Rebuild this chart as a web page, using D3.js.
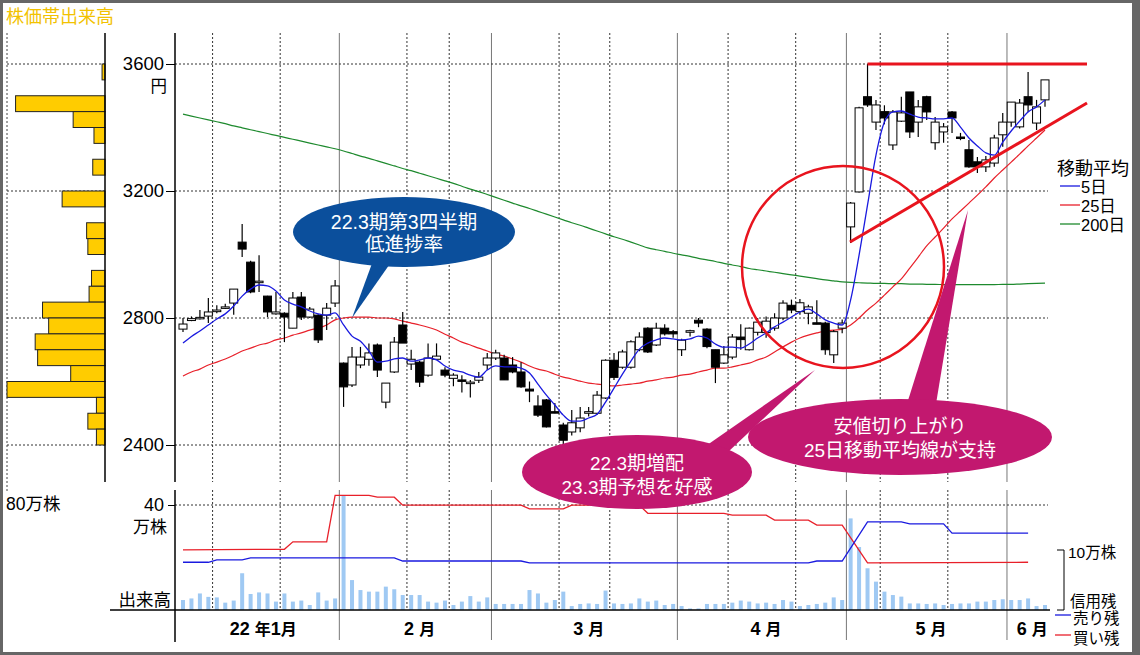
<!DOCTYPE html>
<html><head><meta charset="utf-8">
<script src="https://cdn.jsdelivr.net/npm/d3@7"></script>
<style>
body{margin:0;background:#fff;}
svg{display:block;font-family:"Liberation Sans","Noto Sans CJK JP",sans-serif;}
</style></head><body>
<svg id="c" width="1140" height="655"></svg>
<script>
// ---------- DATA ----------
const open  = [2765,2792,2800,2806,2820,2832,2847,3039,2976,2914,2869,2813,2815,2768,2866,2803,2809,2809,2847,
 2658,2589,2652,2670,2715,2535,2630,2778,2655,2661,2620,2670,2636,2610,2605,2595,2604,2652,
 2674,2674,2652,2630,2576,2523,2542,2505,2463,2441,2454,2500,2500,2548,2667,2645,2645,2700,2768,2715,2768,2757,
 2700,2755,2793,2765,2700,2658,2677,2740,2700,2755,2754,2768,2800,2840,2820,2815,2785,2784,2684,2768,
 3087,3197,3497,3417,3450,3345,3420,3512,3417,3497,3352,3386,3449,3370,3330,3292,3276,3288,3377,
 3417,3402,3497,3414,3487];
const high  = [2800,2805,2825,2863,2840,2845,2891,3096,2980,2998,2870,2882,2818,2882,2882,2835,2812,2847,2920,
 2660,2709,2709,2720,2720,2595,2740,2819,2700,2665,2720,2720,2645,2626,2620,2605,2630,2690,
 2700,2684,2677,2661,2600,2557,2545,2532,2470,2510,2520,2520,2570,2670,2690,2700,2730,2755,2771,2785,2780,2762,
 2735,2763,2800,2768,2700,2712,2750,2780,2770,2800,2805,2815,2856,2858,2860,2842,2856,2788,2762,2795,
 3165,3465,3600,3487,3470,3455,3497,3512,3487,3500,3433,3414,3452,3383,3361,3307,3310,3377,3446,
 3480,3490,3575,3487,3550];
const low   = [2756,2790,2795,2784,2815,2828,2810,2992,2878,2882,2803,2810,2724,2768,2794,2800,2721,2762,2835,
 2520,2583,2642,2650,2614,2516,2627,2721,2636,2583,2615,2668,2613,2585,2565,2550,2595,2636,
 2668,2605,2626,2580,2535,2488,2455,2500,2395,2430,2440,2490,2495,2545,2605,2640,2640,2695,2690,2712,2745,2738,
 2680,2742,2771,2705,2595,2655,2670,2700,2698,2745,2738,2760,2793,2815,2810,2780,2780,2684,2658,2752,
 3036,3195,3465,3392,3410,3329,3417,3367,3370,3424,3330,3352,3383,3360,3273,3257,3260,3276,3339,
 3402,3397,3449,3392,3465];
const close = [2781,2798,2802,2819,2825,2835,2891,3017,2882,2916,2819,2819,2803,2863,2803,2828,2731,2831,2901,
 2583,2677,2677,2690,2636,2595,2724,2721,2670,2598,2674,2680,2620,2620,2603,2598,2614,2674,
 2690,2605,2630,2583,2570,2494,2457,2503,2415,2470,2485,2505,2557,2667,2613,2693,2725,2740,2693,2768,2750,2750,
 2730,2760,2784,2710,2645,2684,2740,2732,2768,2787,2790,2800,2847,2825,2848,2835,2784,2700,2757,2784,
 3162,3462,3471,3471,3430,3449,3446,3386,3465,3449,3417,3402,3430,3367,3276,3276,3298,3367,3417,
 3480,3477,3471,3465,3550];
const ma5   = [2721,2742,2759,2778,2797,2813,2838,2869,2891,2904,2901,2885,2857,2844,2835,2822,2813,2809,2816,
 2778,2743,2727,2696,2661,2664,2671,2674,2664,2668,2674,2668,2649,2636,2630,2620,2614,2636,
 2649,2646,2646,2642,2627,2592,2557,2526,2494,2475,2475,2485,2497,2535,2579,2623,2664,2702,2721,2731,2737,2734,
 2731,2734,2743,2737,2718,2708,2708,2705,2718,2737,2753,2772,2787,2803,2819,2828,2813,2794,2784,2778,
 2857,2998,3156,3313,3417,3449,3452,3442,3433,3430,3427,3427,3430,3401,3367,3342,3320,3313,3354,
 3389,3420,3449,3465,3487];
const ma25  = [2617,2630,2639,2652,2661,2671,2683,2696,2705,2715,2721,2731,2737,2746,2753,2762,2768,2778,2794,
 2800,2803,2803,2803,2800,2800,2797,2790,2784,2778,2771,2762,2749,2737,2724,2715,2705,2696,
 2686,2680,2671,2661,2649,2639,2633,2623,2614,2608,2601,2595,2592,2589,2586,2589,2592,2595,2601,2605,2611,2614,
 2620,2623,2630,2636,2642,2642,2646,2652,2658,2668,2677,2693,2709,2724,2737,2746,2753,2759,2762,2765,
 2778,2800,2825,2847,2872,2898,2923,2957,2992,3027,3055,3083,3112,3137,3162,3187,3213,3241,3266,
 3291,3316,3342,3367,3392];
const ma200 = [3442,3436,3430,3424,3418,3412,3405,3399,3393,3387,3381,3375,3369,3363,3357,3351,3345,3339,3333,
 3326,3318,3310,3303,3295,3287,3279,3271,3264,3256,3248,3240,3232,3224,3215,3206,3198,3189,
 3180,3171,3162,3153,3145,3136,3127,3118,3109,3100,3092,3083,3074,3065,3056,3048,3039,3030,3021,3015,3010,3004,
 2999,2994,2988,2983,2978,2972,2967,2962,2956,2952,2948,2944,2940,2936,2932,2928,2924,2920,2917,2914,
 2912,2911,2910,2909,2909,2908,2908,2907,2907,2906,2906,2905,2905,2905,2905,2905,2905,2905,2906,
 2906,2907,2908,2909,2910];
const volume = [3.8,4.4,6.3,5.0,4.8,2.8,3.6,14.0,6.1,6.7,6.3,3.2,6.3,3.2,3.6,1.9,6.7,3.6,4.4,
 43.8,11.4,7.6,7.0,7.0,8.9,7.9,5.7,5.7,5.7,3.2,2.8,3.6,1.9,3.2,5.3,3.2,4.8,
 2.3,2.3,2.3,2.3,7.6,6.3,2.8,3.8,7.0,1.5,2.3,2.5,2.3,7.4,2.5,2.3,2.5,4.4,3.2,3.6,1.9,2.3,
 1.5,0.6,0.6,2.3,2.3,2.3,2.8,3.6,3.2,2.5,2.8,2.3,3.8,3.2,1.5,1.9,2.3,2.8,4.8,3.8,
 34.9,24.0,15.9,10.8,7.0,5.7,5.1,2.5,2.5,2.3,2.5,1.9,2.3,2.5,2.5,3.2,3.2,3.8,4.1,
 3.8,3.8,4.4,1.5,1.9];
// margin balances (万株), weekly points: day index and value
const buyDays  = [0,12,13,17,18,22,23,25,26,40,41,45,46,54,55,64,65,69,70,74,75,78,81,100];
const buyVals  = [9.7,9.8,11.0,11.0,18.5,18.5,18.2,18.2,16.9,16.9,16.3,16.3,16.9,16.9,15.6,15.6,15.3,15.3,14.5,14.5,13.7,13.7,7.6,7.7];
const sellDays = [0,3,4,7,8,25,26,40,41,74,75,78,81,85,86,90,91,100];
const sellVals = [7.7,7.7,8.1,8.1,8.4,8.4,7.9,7.9,7.6,7.6,7.9,7.9,14.2,14.2,13.9,13.9,12.4,12.4];
// price-band volume profile (lower edge of 50円 band, 万株)
const bandLow = [3550,3450,3400,3350,3250,3150,3050,3000,2900,2850,2800,2750,2700,2650,2600,2550,2500,2450,2400];
const bandVol = [2.4,73,26,9,10,35,15,14,11,13,51,46,57,55,28,80,7,14,7];
const priceTicks = [2400,2800,3200,3600];
const monthLabels = ["22","2","3","4","5","6"];
const monthFirst = [0,19,37,59,79,98];
const monthLast  = [18,36,58,78,97,102];
const midLines = [3.5,11.5,26.5,31.5,44.5,50.5,64.5,72.5,82.5,90.5];

// ---------- SCALES ----------
const svg = d3.select("#c");
const x = d3.scaleLinear().domain([0,102]).range([183,1045]);
const y = d3.scaleLinear().domain([2400,3600]).range([445,64]);
const yv = d3.scaleLinear().domain([0,40]).range([610,505]);
const ym = d3.scaleLinear().domain([0,10]).range([610,548]);
const xh = d3.scaleLinear().domain([0,80]).range([105,7]);
const N = close.length;

// frame
svg.append("rect").attr("width",1140).attr("height",655).attr("fill","#666");
svg.append("rect").attr("x",3).attr("y",3).attr("width",1129).attr("height",649).attr("fill","#fff");

// title
svg.append("text").attr("x",6).attr("y",23).attr("font-size",18).attr("fill","#f2c200").text("株価帯出来高");

// histogram panel
svg.append("line").attr("x1",7).attr("x2",7).attr("y1",33).attr("y2",492).attr("stroke","#444").attr("stroke-dasharray","2,2");
priceTicks.forEach(p=>{
  svg.append("line").attr("x1",7).attr("x2",105).attr("y1",y(p)).attr("y2",y(p)).attr("stroke","#333").attr("stroke-dasharray","2,2");
});
svg.append("g").selectAll("rect").data(bandLow).join("rect")
  .attr("x",(d,i)=>xh(bandVol[i])).attr("width",(d,i)=>105-xh(bandVol[i]))
  .attr("y",d=>y(d+50)).attr("height",d=>y(d)-y(d+50))
  .attr("fill","#ffcc00").attr("stroke","#222").attr("stroke-width",1);
svg.append("line").attr("x1",105).attr("x2",105).attr("y1",33).attr("y2",482).attr("stroke","#000").attr("stroke-width",1.5);
svg.append("text").attr("x",6).attr("y",510).attr("font-size",17.5).text("80万株");

// grid: month boundaries (solid) and mid-month (dotted)
const bounds = monthFirst.slice(1).map(d=>d-0.5);
bounds.forEach(b=>{
  svg.append("line").attr("x1",x(b)).attr("x2",x(b)).attr("y1",33).attr("y2",482).attr("stroke","#777");
  svg.append("line").attr("x1",x(b)).attr("x2",x(b)).attr("y1",490).attr("y2",640).attr("stroke","#777");
});
midLines.forEach(b=>{
  svg.append("line").attr("x1",x(b)).attr("x2",x(b)).attr("y1",33).attr("y2",482).attr("stroke","#333").attr("stroke-dasharray","2,2");
  svg.append("line").attr("x1",x(b)).attr("x2",x(b)).attr("y1",490).attr("y2",610).attr("stroke","#333").attr("stroke-dasharray","2,2");
});
priceTicks.forEach(p=>{
  svg.append("line").attr("x1",175).attr("x2",1048).attr("y1",y(p)).attr("y2",y(p)).attr("stroke","#333").attr("stroke-dasharray","2,2");
});
svg.append("line").attr("x1",175).attr("x2",1048).attr("y1",yv(40)).attr("y2",yv(40)).attr("stroke","#333").attr("stroke-dasharray","2,2");

// price axis
const ay = d3.axisLeft(y).tickValues(priceTicks).tickSize(9).tickFormat(d3.format("d"));
const gAy = svg.append("g").attr("transform","translate(175,0)").call(ay);
gAy.select(".domain").remove();
gAy.selectAll("text").attr("font-size",18.5).attr("font-family","Liberation Sans, Arial, sans-serif").attr("fill","#000").attr("x",-11);
gAy.selectAll("line").attr("stroke","#000");
svg.append("text").attr("x",167).attr("y",92).attr("text-anchor","end").attr("font-size",16.5).text("円");
svg.append("line").attr("x1",175).attr("x2",175).attr("y1",33).attr("y2",482).attr("stroke","#000").attr("stroke-width",1.5);

// volume axis
const av = d3.axisLeft(yv).tickValues([40]).tickSize(7).tickFormat(d3.format("d"));
const gAv = svg.append("g").attr("transform","translate(175,0)").call(av);
gAv.select(".domain").remove();
gAv.selectAll("text").attr("font-size",18).attr("fill","#000").attr("x",-11);
svg.append("text").attr("x",167).attr("y",533).attr("text-anchor","end").attr("font-size",17).text("万株");
svg.append("text").attr("x",171).attr("y",606).attr("text-anchor","end").attr("font-size",17.5).text("出来高");
svg.append("line").attr("x1",175).attr("x2",175).attr("y1",490).attr("y2",642).attr("stroke","#000").attr("stroke-width",1.5);

// volume bars
svg.append("g").selectAll("rect").data(volume).join("rect")
  .attr("x",(d,i)=>x(i)-2).attr("width",4)
  .attr("y",d=>yv(d)).attr("height",d=>610-yv(d))
  .attr("fill","#9fc9f3");
svg.append("line").attr("x1",110).attr("x2",1050).attr("y1",610).attr("y2",610).attr("stroke","#000").attr("stroke-width",1.5);

// margin lines
const lm = d3.line().x(d=>x(d[0])).y(d=>ym(d[1]));
svg.append("path").attr("d",lm(buyDays.map((d,i)=>[d,buyVals[i]]))).attr("fill","none").attr("stroke","#e8202a").attr("stroke-width",1.3);
svg.append("path").attr("d",lm(sellDays.map((d,i)=>[d,sellVals[i]]))).attr("fill","none").attr("stroke","#1a1adf").attr("stroke-width",1.3);

// month labels
monthLabels.forEach((m,i)=>{
  const cx = x((monthFirst[i]+monthLast[i])/2+0.5);
  const t = svg.append("text").attr("x",cx).attr("y",635).attr("text-anchor","middle").attr("font-size",18).attr("font-weight","bold");
  if(i===0){ t.append("tspan").text("22 "); t.append("tspan").attr("font-size",16).text("年"); t.append("tspan").text("1"); t.append("tspan").attr("font-size",16).text("月"); }
  else { t.append("tspan").text(m+" "); t.append("tspan").attr("font-size",16).text("月"); }
});

// moving averages
const lineMA = arr => d3.line().x((d,i)=>x(i)).y(d=>y(d)).curve(d3.curveMonotoneX)(arr);
svg.append("path").attr("d",lineMA(ma200)).attr("fill","none").attr("stroke","#1e8a2e").attr("stroke-width",1.2);
svg.append("path").attr("d",lineMA(ma25)).attr("fill","none").attr("stroke","#e8202a").attr("stroke-width",1.2);

// candles
const cg = svg.append("g");
for(let i=0;i<N;i++){
  const up = close[i]>=open[i];
  cg.append("line").attr("x1",x(i)).attr("x2",x(i)).attr("y1",y(high[i])).attr("y2",y(low[i])).attr("stroke","#000").attr("stroke-width",1.2);
  const top = y(Math.max(open[i],close[i])), bot = y(Math.min(open[i],close[i]));
  cg.append("rect").attr("x",x(i)-4).attr("width",8).attr("y",top).attr("height",Math.max(1.5,bot-top))
    .attr("fill",up?"#fff":"#000").attr("stroke","#000").attr("stroke-width",1);
}
svg.append("path").attr("d",lineMA(ma5)).attr("fill","none").attr("stroke","#1a1adf").attr("stroke-width",1.3);

// red trend lines & circle
svg.append("line").attr("x1",x(81)).attr("x2",1087).attr("y1",y(3600)).attr("y2",y(3600)).attr("stroke","#e8141e").attr("stroke-width",3);
svg.append("line").attr("x1",850).attr("y1",242).attr("x2",1087).attr("y2",103).attr("stroke","#e8141e").attr("stroke-width",3);
svg.append("circle").attr("cx",843).attr("cy",267).attr("r",101).attr("fill","none").attr("stroke","#e8141e").attr("stroke-width",2.5);

// annotations
function callout(cx,cy,rx,ry,col,ptr,lines,fs,ly){
  svg.append("path").attr("d",d3.line()(ptr)+"Z").attr("fill",col);
  svg.append("ellipse").attr("cx",cx).attr("cy",cy).attr("rx",rx).attr("ry",ry).attr("fill",col);
  lines.forEach((t,k)=>svg.append("text").attr("x",cx).attr("y",ly[k]).attr("text-anchor","middle").attr("font-size",fs).attr("fill","#fff").text(t));
}
callout(404,232,111,35,"#0b4f9c",[[374,258],[394,258],[352,318]],["22.3期第3四半期","低進捗率"],19.5,[229,251]);
callout(637,472,115,37,"#c2186f",[[700,450],[728,452],[815,370]],["22.3期増配","23.3期予想を好感"],19,[470,494]);
callout(900,437,152,38,"#c2186f",[[905,410],[935,410],[968,210]],["安値切り上がり","25日移動平均線が支持"],19,[433,457]);

// legend
svg.append("text").attr("x",1057).attr("y",175).attr("font-size",18).text("移動平均");
[["5日","#1a1adf"],["25日","#e8202a"],["200日","#1e8a2e"]].forEach((d,k)=>{
  const yy = 186+k*19;
  svg.append("line").attr("x1",1060).attr("x2",1080).attr("y1",yy).attr("y2",yy).attr("stroke",d[1]).attr("stroke-width",1.3);
  svg.append("text").attr("x",1081).attr("y",yy+7).attr("font-size",16.5).text(d[0]);
});
// margin legend
svg.append("path").attr("d","M1057,550H1064V610H1057").attr("fill","none").attr("stroke","#000");
svg.append("text").attr("x",1068).attr("y",558).attr("font-size",15.5).text("10万株");
svg.append("text").attr("x",1070).attr("y",607).attr("font-size",15.5).text("信用残");
svg.append("line").attr("x1",1055).attr("x2",1071).attr("y1",615).attr("y2",615).attr("stroke","#1a1adf").attr("stroke-width",1.3);
svg.append("text").attr("x",1073).attr("y",624).attr("font-size",15.5).text("売り残");
svg.append("line").attr("x1",1055).attr("x2",1071).attr("y1",635).attr("y2",635).attr("stroke","#e8202a").attr("stroke-width",1.3);
svg.append("text").attr("x",1073).attr("y",644).attr("font-size",15.5).text("買い残");
</script></body></html>
